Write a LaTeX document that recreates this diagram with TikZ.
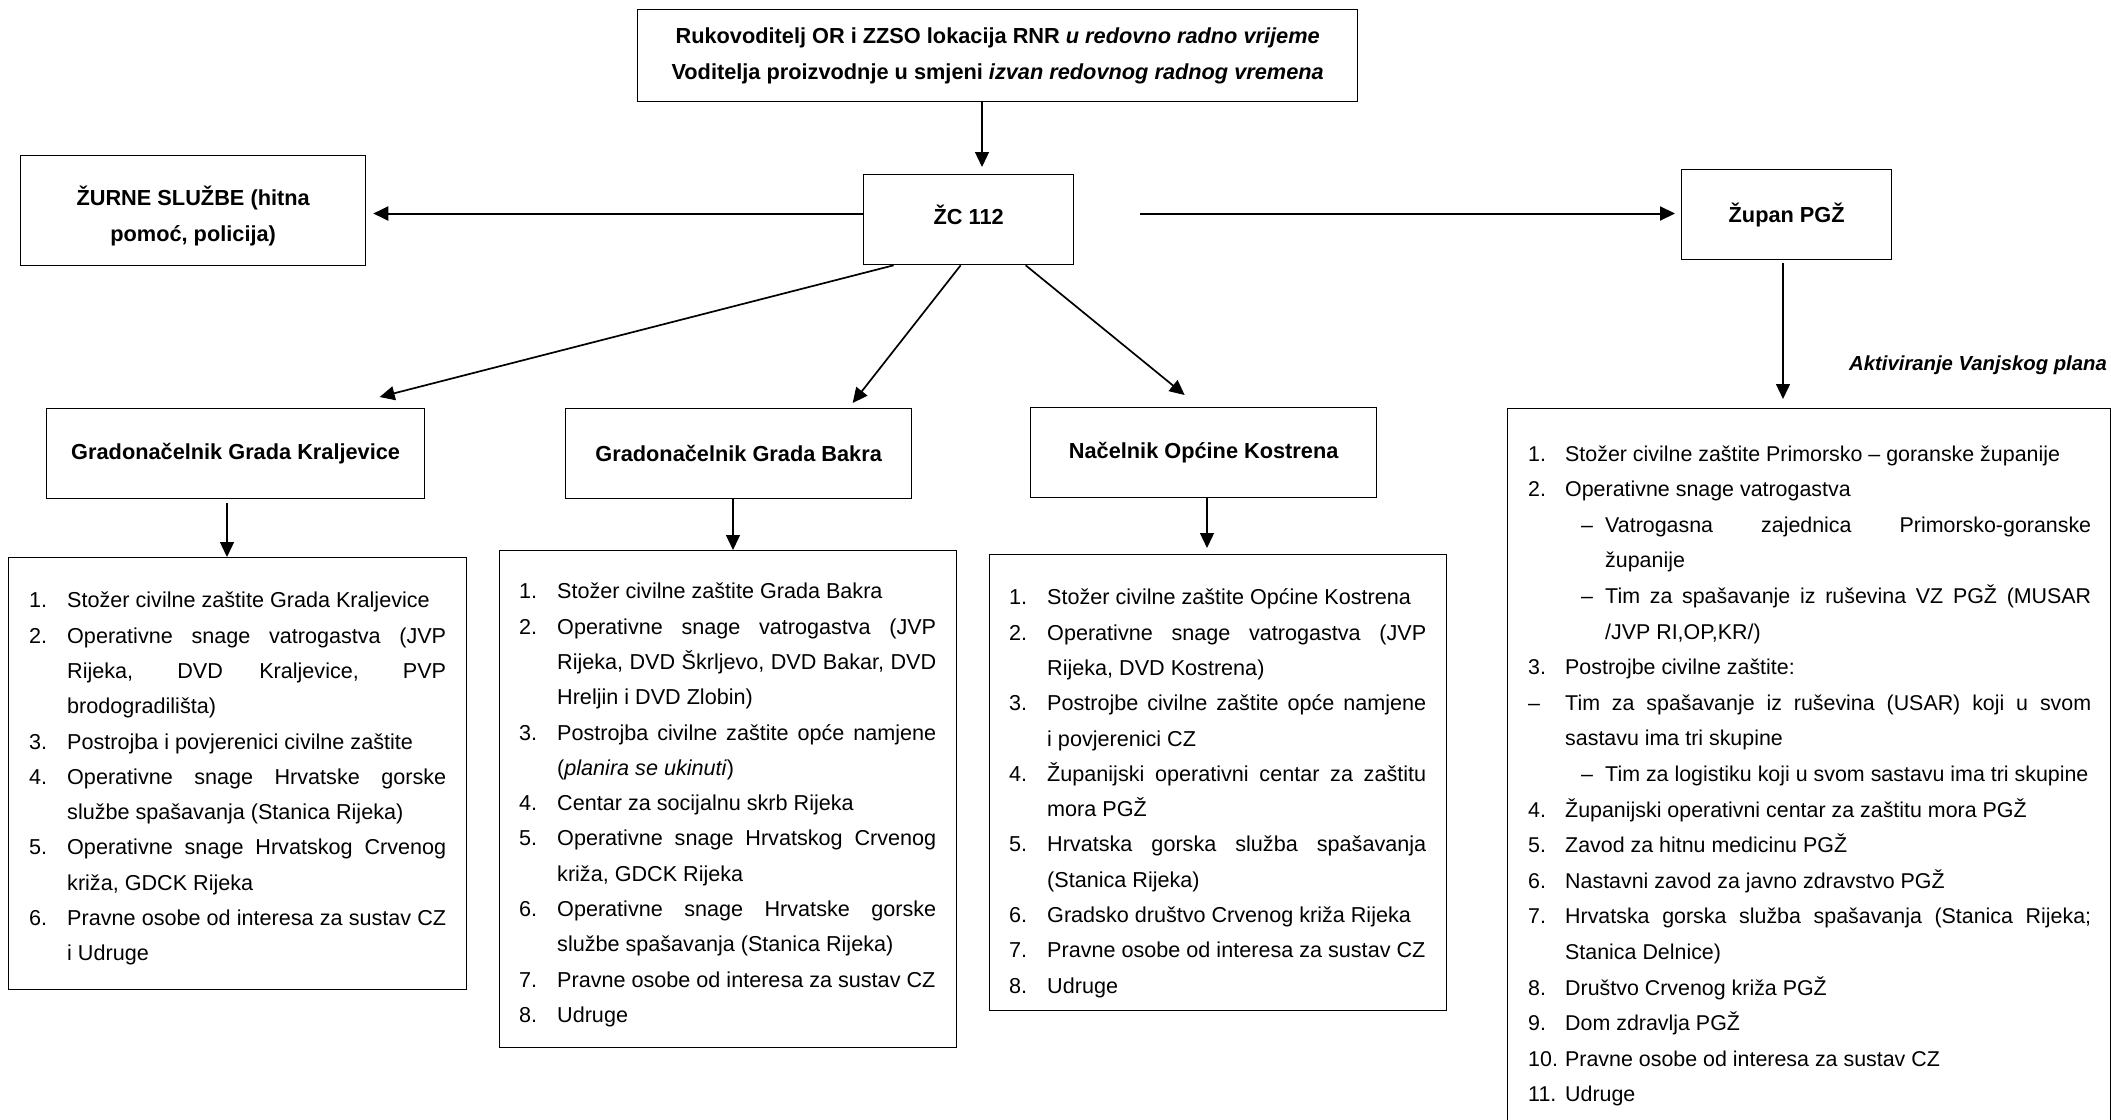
\documentclass[tikz,border=0pt]{standalone}
\usepackage{fontspec}
\setmainfont{Liberation Sans}
\usetikzlibrary{arrows.meta}
\hyphenpenalty=10000
\exhyphenpenalty=10000
\tolerance=9999
\emergencystretch=20pt
\hbadness=10000
\newcommand\numit[2]{\par\hangindent=38pt\hangafter=1\noindent\strut\makebox[38pt][l]{#1}#2}
\newcommand\rnum[2]{\par\hangindent=37pt\hangafter=1\noindent\strut\makebox[37pt][l]{#1}#2}
\newcommand\rsub[1]{\par\hangindent=77pt\hangafter=1\noindent\strut\hspace*{53pt}\makebox[24pt][l]{–}#1}
\newcommand\rdash[1]{\par\hangindent=37pt\hangafter=1\noindent\strut\makebox[37pt][l]{–}#1}
\begin{document}
\begin{tikzpicture}[x=1pt,y=-1pt,
  box/.style={draw, line width=1.3pt, rectangle, inner sep=0pt, anchor=north west},
  hdr/.style={box, font=\fontsize{21.75}{36}\selectfont\bfseries, align=center},
  lst/.style={anchor=north west, inner sep=0pt, text width=#1, align=justify,
    font=\fontsize{21.6}{35.3}\selectfont},
  arr/.style={-{Triangle[length=15pt,width=14pt]}, line width=1.3pt},
  harr/.style={arr, line width=2pt},
  darr/.style={arr, line width=1.7pt}]
\useasboundingbox (0,0) rectangle (2111,1119);
\clip (0,0) rectangle (2111,1119);

% top row
\node[hdr, minimum width=720pt, minimum height=92pt] (top) at (637,9)
  {Rukovoditelj OR i ZZSO lokacija RNR \textit{u redovno radno vrijeme}\\
   Voditelja proizvodnje u smjeni \textit{izvan redovnog radnog vremena}};
\node[hdr, minimum width=210pt, minimum height=90pt] (zc) at (863,174) {ŽC 112\rule[-10pt]{0pt}{0pt}};
\node[hdr, minimum width=345pt, minimum height=110pt] (zur) at (20,155) {\rule{0pt}{30pt}ŽURNE SLUŽBE (hitna\\pomoć, policija)};
\node[hdr, minimum width=210pt, minimum height=90pt] (zup) at (1681,169) {Župan PGŽ\rule[-4pt]{0pt}{0pt}};

% second row headers
\node[hdr, minimum width=378pt, minimum height=90pt] (kh) at (46,408) {Gradonačelnik Grada Kraljevice};
\node[hdr, minimum width=346pt, minimum height=90pt] (bh) at (565,408) {Gradonačelnik Grada Bakra};
\node[hdr, minimum width=346pt, minimum height=90pt] (oh) at (1030,407) {Načelnik Općine Kostrena};

% list frames
\node[box, minimum width=458pt, minimum height=432pt] (kl) at (8,557) {};
\node[box, minimum width=457pt, minimum height=497pt] (bl) at (499,550) {};
\node[box, minimum width=457pt, minimum height=456pt] (ol) at (989,554) {};
\node[box, minimum width=603pt, minimum height=800pt] (rl) at (1507,408) {};

% list texts
\node[lst=417pt] (kt) at (29,572.3) {%
\numit{1.}{Stožer civilne zaštite Grada Kraljevice}
\numit{2.}{Operativne snage vatrogastva (JVP\linebreak Rijeka, DVD Kraljevice, PVP\linebreak brodogradilišta)}
\numit{3.}{Postrojba i povjerenici civilne zaštite}
\numit{4.}{Operativne snage Hrvatske gorske\linebreak službe spašavanja (Stanica Rijeka)}
\numit{5.}{Operativne snage Hrvatskog Crvenog\linebreak križa, GDCK Rijeka}
\numit{6.}{Pravne osobe od interesa za sustav CZ\linebreak i Udruge}\par};

\node[lst=417pt] (bt) at (519,563.3) {%
\numit{1.}{Stožer civilne zaštite Grada Bakra}
\numit{2.}{Operativne snage vatrogastva (JVP\linebreak Rijeka, DVD Škrljevo, DVD Bakar, DVD\linebreak Hreljin i DVD Zlobin)}
\numit{3.}{Postrojba civilne zaštite opće namjene\linebreak (\textit{planira se ukinuti})}
\numit{4.}{Centar za socijalnu skrb Rijeka}
\numit{5.}{Operativne snage Hrvatskog Crvenog\linebreak križa, GDCK Rijeka}
\numit{6.}{Operativne snage Hrvatske gorske\linebreak službe spašavanja (Stanica Rijeka)}
\numit{7.}{Pravne osobe od interesa za sustav CZ}
\numit{8.}{Udruge}\par};

\node[lst=417pt] (ot) at (1009,569.3) {%
\numit{1.}{Stožer civilne zaštite Općine Kostrena}
\numit{2.}{Operativne snage vatrogastva (JVP\linebreak Rijeka, DVD Kostrena)}
\numit{3.}{Postrojbe civilne zaštite opće namjene\linebreak i povjerenici CZ}
\numit{4.}{Županijski operativni centar za zaštitu\linebreak mora PGŽ}
\numit{5.}{Hrvatska gorska služba spašavanja\linebreak (Stanica Rijeka)}
\numit{6.}{Gradsko društvo Crvenog križa Rijeka}
\numit{7.}{Pravne osobe od interesa za sustav CZ}
\numit{8.}{Udruge}\par};

\node[lst=563pt, font=\fontsize{21.4}{35.6}\selectfont] (rt) at (1528,425.3) {%
\rnum{1.}{Stožer civilne zaštite Primorsko – goranske županije}
\rnum{2.}{Operativne snage vatrogastva}
\rsub{Vatrogasna zajednica Primorsko-goranske\linebreak županije}
\rsub{Tim za spašavanje iz ruševina VZ PGŽ (MUSAR\linebreak /JVP RI,OP,KR/)}
\rnum{3.}{Postrojbe civilne zaštite:}
\rdash{Tim za spašavanje iz ruševina (USAR) koji u svom\linebreak sastavu ima tri skupine}
\rsub{Tim za logistiku koji u svom sastavu ima tri skupine}
\rnum{4.}{Županijski operativni centar za zaštitu mora PGŽ}
\rnum{5.}{Zavod za hitnu medicinu PGŽ}
\rnum{6.}{Nastavni zavod za javno zdravstvo PGŽ}
\rnum{7.}{Hrvatska gorska služba spašavanja (Stanica Rijeka;\linebreak Stanica Delnice)}
\rnum{8.}{Društvo Crvenog križa PGŽ}
\rnum{9.}{Dom zdravlja PGŽ}
\rnum{10.}{Pravne osobe od interesa za sustav CZ}
\rnum{11.}{Udruge}\par};

\node[anchor=east, inner sep=0pt, font=\fontsize{20.3}{24}\selectfont\bfseries\itshape] (akt) at (2107,365) {Aktiviranje Vanjskog plana};

% connectors
\coordinate (xa) at (982,0);
\coordinate (yh) at (0,213.5);
\coordinate (zs) at (1140,213.5);
\coordinate (x1) at (227,0);
\coordinate (x2) at (733,0);
\coordinate (x3) at (1207,0);
\coordinate (x4) at (1783,0);

\draw[arr, shorten >=7pt] (top.south -| xa) -- (zc.north -| xa);
\draw[harr, shorten >=7pt] (zc.west |- yh) -- (zur.east |- yh);
\draw[harr, shorten >=6pt] (zs) -- (zup.west |- zs);
\draw[darr] ([xshift=-75pt]zc.south) -- ([xshift=144pt,yshift=11pt]kh.north);
\draw[darr] ([xshift=-8pt]zc.south) -- ([xshift=114pt,yshift=5pt]bh.north);
\draw[darr] ([xshift=57pt]zc.south) -- ([xshift=-19pt,yshift=12pt]oh.north);
\draw[arr, shorten <=4pt] (kh.south -| x1) -- (kl.north -| x1);
\draw[arr] (bh.south -| x2) -- (bl.north -| x2);
\draw[arr, shorten >=6pt] (oh.south -| x3) -- (ol.north -| x3);
\draw[arr, shorten <=3pt, shorten >=9pt] (zup.south -| x4) -- (rl.north -| x4);
\end{tikzpicture}
\end{document}
